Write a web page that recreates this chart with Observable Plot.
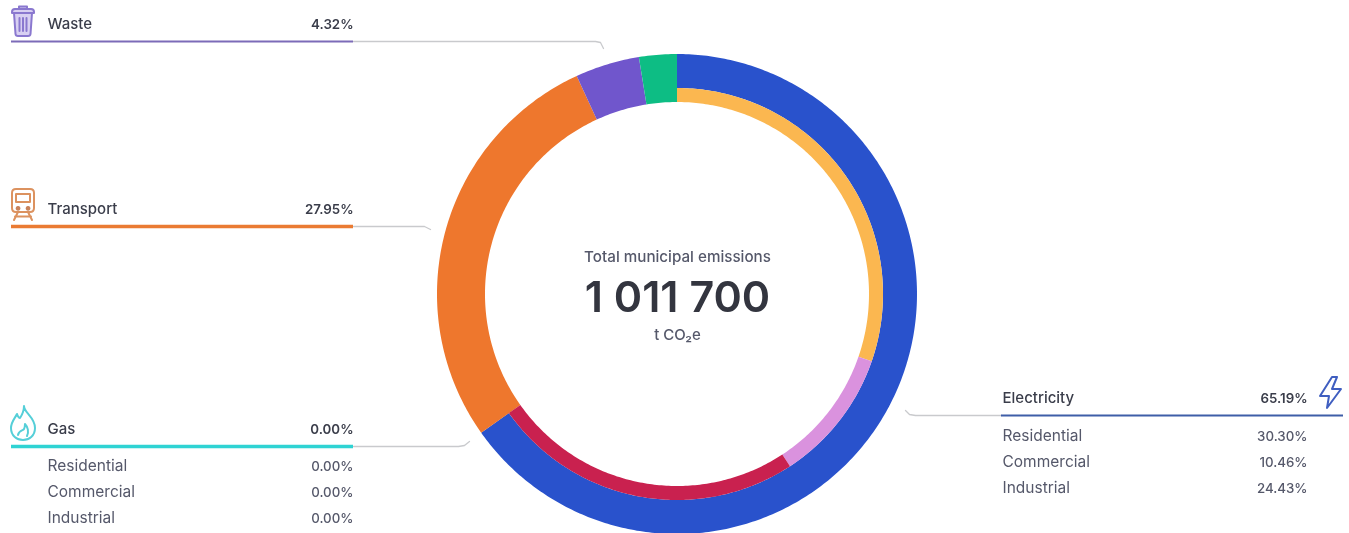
<!DOCTYPE html>
<html><head><meta charset="utf-8">
<script src="https://cdn.jsdelivr.net/npm/d3@7"></script>
<script src="https://cdn.jsdelivr.net/npm/@observablehq/plot@0.6"></script>
<style>html,body{margin:0;padding:0;background:#fff;overflow:hidden}svg{display:block}</style>
</head><body><div id="chart"></div>
<script>
// ---- chart values ----
const sectors = ["Electricity","Transport","Waste","Other"];
const sectorShares = [65.19,27.95,4.32,2.54];
const sectorColors = ["#2952cc","#ee772d","#7056cc","#0dbd84"];
const electricityParts = ["Residential","Commercial","Industrial"];
const electricityShares = [30.30,10.46,24.43];
const electricityColors = ["#fbb750","#da92de","#c9214f"];
const gasParts = ["Residential","Commercial","Industrial"];
const gasShares = [0,0,0];
const gasTotal = 0;
const centerTitle = "Total municipal emissions";
const centerValue = "1 011 700";
const centerUnit = "t CO₂e";

// ---- layout ----
const W = 1349, H = 533, cx = 677, cy = 294;
const R = {outer:240, mid:206, inner:192};
const ink = "#3a3d4a", muted = "#55586a";
const font = "Inter, Lato, 'Noto Sans', sans-serif";

function ringSegments(names, shares, colors, r0, r1, start = 0) {
  const rows = []; let acc = start;
  names.forEach((name,i) => {
    const a0 = acc/100*2*Math.PI, a1 = (acc+shares[i])/100*2*Math.PI;
    const n = Math.max(2, Math.ceil((a1-a0)*80));
    d3.range(n+1).forEach(k => {
      const a = a0+(a1-a0)*k/n, s = Math.sin(a), c = -Math.cos(a);
      rows.push({name, color:colors[i], x1:cx+r0*s, y1:cy+r0*c, x2:cx+r1*s, y2:cy+r1*c});
    });
    acc += shares[i];
  });
  return rows;
}
const pct = v => v.toFixed(2)+"%";
const outerRows = [
  ...ringSegments(["Electricity"],[sectorShares[0]],[sectorColors[0]],R.mid,R.outer,0),
  ...ringSegments(sectors.slice(1),sectorShares.slice(1),sectorColors.slice(1),R.inner,R.outer,sectorShares[0])
];
const innerRows = ringSegments(electricityParts,electricityShares,electricityColors,R.inner,R.mid,0);

const blocks = [
  {name:"Waste",value:pct(sectorShares[2]),x0:11,x1:353,lx:47,rx:353,y:41,color:"#7c6bb8",w:2},
  {name:"Transport",value:pct(sectorShares[1]),x0:11,x1:353,lx:47,rx:353,y:226,color:"#ea7b33",w:3.4},
  {name:"Gas",value:pct(gasTotal),x0:11,x1:353,lx:47,rx:353,y:446,color:"#2fd3d3",w:3.4},
  {name:"Electricity",value:pct(sectorShares[0]),x0:1001,x1:1343,lx:1002,rx:1307,y:415,color:"#3f5ea8",w:2}
];
const subRows = [
  ...gasParts.map((n,i)=>({name:n,value:pct(gasShares[i]),lx:47,rx:353,y:466+26*i})),
  ...electricityParts.map((n,i)=>({name:n,value:pct(electricityShares[i]),lx:1002,rx:1307,y:436+26*i}))
];
const leaders = [
  {id:"w",pts:[[353,41],[595,41],[600,42],[603,48]]},
  {id:"t",pts:[[353,226],[424,226],[430,229]]},
  {id:"g",pts:[[353,446],[458,446],[464,445],[469,441]]},
  {id:"e",pts:[[1001,415],[915,415],[909,414],[905,410]]}
].flatMap(l=>l.pts.map(p=>({id:l.id,x:p[0],y:p[1]})));

// icons drawn as small svg paths in their own box
const icons = [
  {x:11,y:5,color:"#8a78cf",fill:"#d8d0f2",d:"M1 7Q1 4 4 4H20Q23 4 23 7V8H1ZM8 4V1.5H16V4M3 8L4.5 29Q4.7 31 7 31H17Q19.3 31 19.5 29L21 8ZM8.5 13V26M12 13V26M15.5 13V26"},
  {x:11,y:188,color:"#dc925f",fill:"none",d:"M1 5Q1 1 5 1H19Q23 1 23 5V20Q23 24 19 24H5Q1 24 1 20ZM5 6H19V14H5ZM3 32L7 24M21 32L17 24M4 28.5H20"},
  {x:11,y:188,color:"#c9825a",fill:"#c9825a",d:"M7 19a1.4 1.4 0 1 0 .1 0ZM17 19a1.4 1.4 0 1 0 .1 0Z"},
  {x:11,y:405,color:"#55cfd8",fill:"none",d:"M13 1C13 8 24 12 24 23C24 31 18 35 12 35C6 35 0 31 0 23C0 17 4 13 6 9C7 12 8 13 9 13C11 10 13 6 13 1ZM7 30C8 25 12 26 13 24C14 22 14 20 14 19C17 22 18 27 16 31"},
  {x:1319,y:376,color:"#3f5ec0",fill:"none",d:"M13 1L1 20H10L8 32L22 13H13L18 1Z"}
];

const iconMark = () => {
  const g = d3.create("svg:g");
  icons.forEach(ic => g.append("path").attr("d",ic.d)
    .attr("transform",`translate(${ic.x},${ic.y})`)
    .attr("fill",ic.fill).attr("stroke",ic.color).attr("stroke-width",2)
    .attr("stroke-linecap","round").attr("stroke-linejoin","round"));
  return g.node();
};

const plot = Plot.plot({
  width:W,height:H,margin:0,
  style:{fontFamily:font,background:"#fff",filter:"blur(0.45px)"},
  x:{domain:[0,W],range:[0,W],axis:null},
  y:{domain:[0,H],range:[0,H],axis:null},
  marks:[
    Plot.area(outerRows,{x1:"x1",y1:"y1",x2:"x2",y2:"y2",z:"name",fill:"color",curve:"linear"}),
    Plot.area(innerRows,{x1:"x1",y1:"y1",x2:"x2",y2:"y2",z:"name",fill:"color",curve:"linear"}),
    Plot.line(leaders,{x:"x",y:"y",z:"id",stroke:"#c9cacd",strokeWidth:1.3,curve:"linear"}),
    Plot.ruleY(blocks,{x1:"x0",x2:"x1",y:"y",stroke:"color",strokeWidth:"w"}),
    Plot.text(blocks,{x:"lx",y:d=>d.y-17,text:"name",textAnchor:"start",fill:ink,fontSize:15,fontWeight:500}),
    Plot.text(blocks,{x:"rx",y:d=>d.y-17,text:"value",textAnchor:"end",fill:ink,fontSize:13.3,fontWeight:600}),
    Plot.text(subRows,{x:"lx",y:"y",text:"name",textAnchor:"start",fill:muted,fontSize:15.5}),
    Plot.text(subRows,{x:"rx",y:"y",text:"value",textAnchor:"end",fill:muted,fontSize:13.3,fontWeight:500}),
    Plot.text([centerTitle],{x:cx,y:256.5,text:d=>d,fill:muted,fontSize:15.2,fontWeight:500}),
    Plot.text([centerValue],{x:cx,y:298,text:d=>d,fill:"#33353f",fontSize:43,fontWeight:600}),
    Plot.text([centerUnit],{x:cx,y:335,text:d=>d,fill:muted,fontSize:15,fontWeight:500}),
    iconMark
  ]
});
document.getElementById("chart").append(plot);
</script></body></html>
